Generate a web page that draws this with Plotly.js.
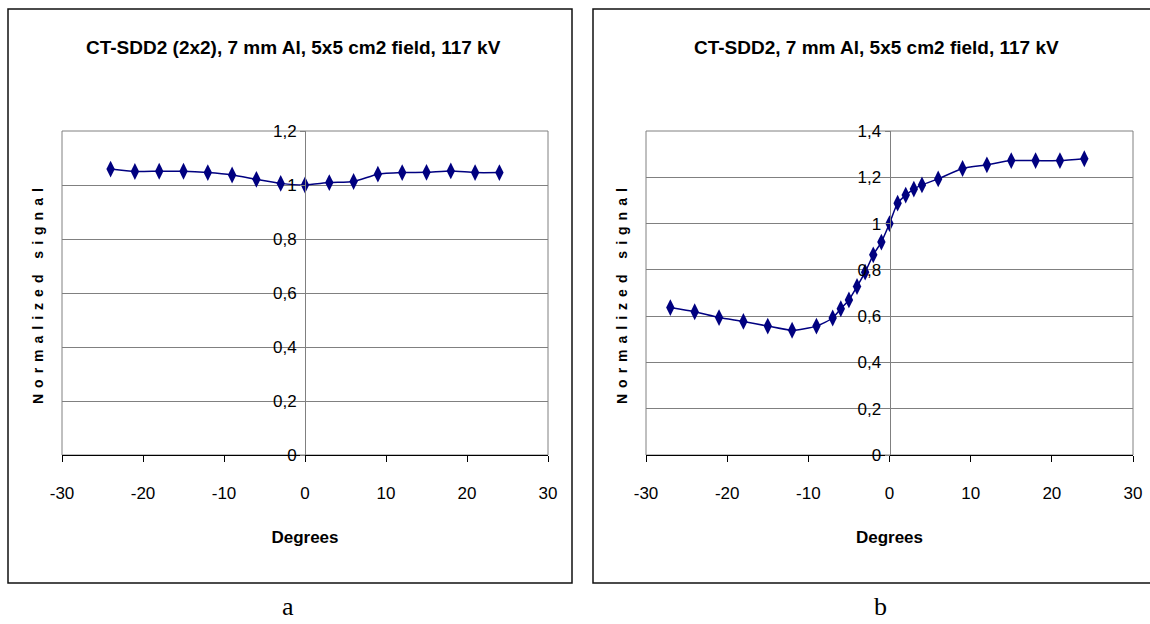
<!DOCTYPE html>
<html><head><meta charset="utf-8">
<script src="https://cdn.plot.ly/plotly-3.0.1.min.js"></script>
<style>html,body{margin:0;padding:0;background:#fff}#chart{width:1150px;height:624px}</style>
</head><body><div id="chart"></div>
<script>
// ---- data ----
const leftTitle = "CT-SDD2 (2x2), 7 mm Al, 5x5 cm2 field, 117 kV";
const rightTitle = "CT-SDD2, 7 mm Al, 5x5 cm2 field, 117 kV";
const xTitle = "Degrees";
const yTitle = "Normalized signal";
const panelLabels = ["a", "b"];

const leftX = [-24,-21,-18,-15,-12,-9,-6,-3,0,3,6,9,12,15,18,21,24];
const leftY = [1.059,1.050,1.051,1.051,1.046,1.037,1.021,1.006,1.000,1.009,1.013,1.040,1.046,1.047,1.052,1.046,1.046];

const rightX = [-27,-24,-21,-18,-15,-12,-9,-7,-6,-5,-4,-3,-2,-1,0,1,2,3,4,6,9,12,15,18,21,24];
const rightY = [0.637,0.619,0.594,0.577,0.557,0.539,0.557,0.592,0.632,0.670,0.728,0.790,0.865,0.920,1.000,1.088,1.123,1.149,1.167,1.193,1.238,1.254,1.272,1.272,1.272,1.280];

const xTickVals = [-30,-20,-10,0,10,20,30];
const xTickText = ["-30","-20","-10","0","10","20","30"];
const leftYTickVals = [0,0.2,0.4,0.6,0.8,1,1.2];
const leftYTickText = ["0","0,2","0,4","0,6","0,8","1","1,2"];
const rightYTickVals = [0,0.2,0.4,0.6,0.8,1,1.2,1.4];
const rightYTickText = ["0","0,2","0,4","0,6","0,8","1","1,2","1,4"];

// ---- layout helpers ----
const W = 1150, H = 624;
const px = v => v / W;
const py = v => 1 - v / H;
const NARROW = "Liberation Sans Narrow, Arial Narrow, Liberation Sans, Arial, sans-serif";
const SANS = "Liberation Sans, Arial, sans-serif";
const SERIF = "Liberation Serif, Times New Roman, serif";
const NAVY = "#000080";
const GRID = "#808080";

const L = {x0: 62, x1: 548, y0: 131, y1: 455};
const R = {x0: 646, x1: 1133, y0: 131, y1: 455};

function xAxis(box, yname) {
  return {
    domain: [px(box.x0), px(box.x1)], anchor: yname, range: [-30, 30],
    tickmode: "array", tickvals: xTickVals, ticktext: xTickText,
    showgrid: false, zeroline: false,
    showline: true, linecolor: "#000", linewidth: 1,
    ticks: "outside", ticklen: 6, tickcolor: "#000", tickwidth: 1,
    ticklabelstandoff: 17,
    tickfont: {family: NARROW, size: 17, color: "#000"},
    title: {text: xTitle, standoff: 28, font: {family: NARROW, size: 17, color: "#000", weight: "bold"}}
  };
}
function yAxis(box, range, vals, text) {
  return {
    domain: [py(box.y1), py(box.y0)], anchor: "free",
    position: px((box.x0 + box.x1) / 2), range: range,
    tickmode: "array", tickvals: vals, ticktext: text,
    showgrid: true, gridcolor: GRID, gridwidth: 1, zeroline: false,
    showline: true, linecolor: GRID, linewidth: 1,
    ticks: "outside", ticklen: 5, tickcolor: GRID,
    tickfont: {family: NARROW, size: 17, color: "#000"}
  };
}

const lineStyle = {color: NAVY, width: 1.5, shape: "spline", smoothing: 0.6};
const markerStyle = {symbol: "diamond-tall", size: 12, color: NAVY};

const traces = [
  {x: leftX, y: leftY, xaxis: "x", yaxis: "y", mode: "lines+markers", line: lineStyle, marker: markerStyle, cliponaxis: false, showlegend: false},
  {x: rightX, y: rightY, xaxis: "x2", yaxis: "y2", mode: "lines+markers", line: lineStyle, marker: markerStyle, cliponaxis: false, showlegend: false}
];

function rect(x0, x1, y0, y1, color, width, layer) {
  return {type: "rect", xref: "paper", yref: "paper", x0: px(x0), x1: px(x1), y0: py(y1), y1: py(y0),
          line: {color: color, width: width}, layer: layer || "below"};
}

const layout = {
  width: W, height: H, margin: {l: 0, r: 0, t: 0, b: 0},
  paper_bgcolor: "#fff", plot_bgcolor: "#fff",
  separators: ", ",
  showlegend: false,
  xaxis: xAxis(L, "y"),
  yaxis: yAxis(L, [0, 1.2], leftYTickVals, leftYTickText),
  xaxis2: xAxis(R, "y2"),
  yaxis2: yAxis(R, [0, 1.4], rightYTickVals, rightYTickText),
  shapes: [
    rect(L.x0, L.x1, L.y0, L.y1, GRID, 1),
    rect(R.x0, R.x1, R.y0, R.y1, GRID, 1),
    rect(8, 572, 9, 583, "#111", 1.5),
    rect(593, 1158, 9, 583, "#111", 1.5)
  ],
  annotations: [
    {text: leftTitle, xref: "paper", yref: "paper", x: px(293), y: py(48), showarrow: false,
     xanchor: "center", yanchor: "middle", font: {family: NARROW, size: 19, color: "#000", weight: "bold"}},
    {text: rightTitle, xref: "paper", yref: "paper", x: px(876), y: py(48), showarrow: false,
     xanchor: "center", yanchor: "middle", font: {family: NARROW, size: 19, color: "#000", weight: "bold"}},
    {text: yTitle, xref: "paper", yref: "paper", x: px(38), y: py(293), showarrow: false, textangle: -90,
     xanchor: "center", yanchor: "middle", font: {family: SANS, size: 14, color: "#000", weight: "bold"}},
    {text: yTitle, xref: "paper", yref: "paper", x: px(622), y: py(293), showarrow: false, textangle: -90,
     xanchor: "center", yanchor: "middle", font: {family: SANS, size: 14, color: "#000", weight: "bold"}},
    {text: panelLabels[0], xref: "paper", yref: "paper", x: px(288), y: py(606), showarrow: false,
     xanchor: "center", yanchor: "middle", font: {family: SERIF, size: 26, color: "#000"}},
    {text: panelLabels[1], xref: "paper", yref: "paper", x: px(880), y: py(606), showarrow: false,
     xanchor: "center", yanchor: "middle", font: {family: SERIF, size: 26, color: "#000"}}
  ]
};

Plotly.newPlot("chart", traces, layout, {staticPlot: true, displayModeBar: false}).then(gd => {
  gd.querySelectorAll(".annotation-text").forEach(t => {
    if (t.textContent === yTitle) t.style.letterSpacing = "6px";
  });
});
</script>
</body></html>
